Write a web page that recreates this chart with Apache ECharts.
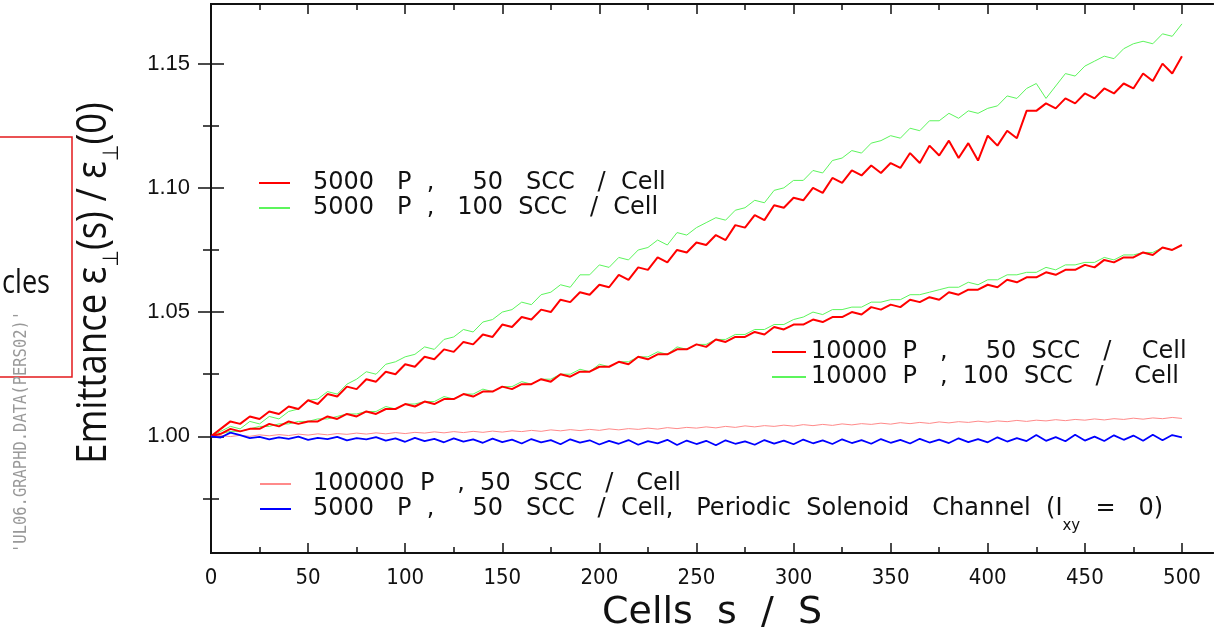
<!DOCTYPE html>
<html>
<head>
<meta charset="utf-8">
<script src="https://cdn.jsdelivr.net/npm/echarts@6/dist/echarts.min.js"></script>
<style>
  html, body { margin: 0; padding: 0; background: #fff; }
  #chart { width: 1224px; height: 637px; }
</style>
</head>
<body>
<div id="chart"></div>
<script>
const chart = echarts.init(document.getElementById('chart'))

// cell index s / S, sampled every 5 cells
const cells = [
  0, 5, 10, 15, 20, 25, 30, 35, 40, 45, 50, 55, 60, 65, 70, 75, 80, 85, 90, 95,
  100, 105, 110, 115, 120, 125, 130, 135, 140, 145, 150, 155, 160, 165, 170, 175, 180, 185, 190, 195,
  200, 205, 210, 215, 220, 225, 230, 235, 240, 245, 250, 255, 260, 265, 270, 275, 280, 285, 290, 295,
  300, 305, 310, 315, 320, 325, 330, 335, 340, 345, 350, 355, 360, 365, 370, 375, 380, 385, 390, 395,
  400, 405, 410, 415, 420, 425, 430, 435, 440, 445, 450, 455, 460, 465, 470, 475, 480, 485, 490, 495,
  500,
]

// 5000 P, 50 SCC / Cell
const p5000scc50 = [
  1.000, 1.003, 1.006, 1.005, 1.008, 1.007, 1.010, 1.009, 1.012, 1.011,
  1.0145, 1.013, 1.017, 1.016, 1.020, 1.019, 1.023, 1.022, 1.026, 1.025,
  1.029, 1.028, 1.032, 1.031, 1.035, 1.034, 1.038, 1.037, 1.041, 1.040,
  1.045, 1.044, 1.048, 1.047, 1.051, 1.050, 1.055, 1.054, 1.058, 1.057,
  1.061, 1.060, 1.065, 1.063, 1.068, 1.067, 1.072, 1.070, 1.075, 1.074,
  1.078, 1.077, 1.081, 1.079, 1.085, 1.084, 1.089, 1.087, 1.093, 1.092,
  1.096, 1.095, 1.100, 1.098, 1.104, 1.102, 1.107, 1.105, 1.109, 1.106,
  1.110, 1.108, 1.114, 1.110, 1.117, 1.113, 1.119, 1.112, 1.118, 1.111,
  1.121, 1.117, 1.123, 1.120, 1.131, 1.131, 1.134, 1.132, 1.136, 1.134,
  1.138, 1.136, 1.140, 1.138, 1.142, 1.140, 1.146, 1.143, 1.150, 1.146,
  1.153,
]

// 5000 P, 100 SCC / Cell
const p5000scc100 = [
  1.000, 1.002, 1.004, 1.003, 1.006, 1.005, 1.008, 1.007, 1.010, 1.011,
  1.0145, 1.015, 1.018, 1.017, 1.021, 1.023, 1.026, 1.025, 1.029, 1.030,
  1.032, 1.033, 1.036, 1.035, 1.039, 1.040, 1.043, 1.042, 1.046, 1.047,
  1.050, 1.051, 1.054, 1.053, 1.057, 1.058, 1.061, 1.060, 1.065, 1.065,
  1.069, 1.068, 1.072, 1.071, 1.075, 1.076, 1.079, 1.077, 1.082, 1.081,
  1.084, 1.086, 1.088, 1.087, 1.091, 1.092, 1.095, 1.094, 1.099, 1.100,
  1.103, 1.103, 1.107, 1.106, 1.111, 1.112, 1.115, 1.114, 1.118, 1.119,
  1.121, 1.120, 1.124, 1.123, 1.127, 1.127, 1.130, 1.128, 1.131, 1.130,
  1.132, 1.133, 1.137, 1.136, 1.140, 1.142, 1.136, 1.141, 1.146, 1.145,
  1.149, 1.151, 1.153, 1.152, 1.156, 1.158, 1.159, 1.158, 1.162, 1.161,
  1.166,
]

// 10000 P, 50 SCC / Cell
const p10000scc50 = [
  1.000, 1.001, 1.003, 1.002, 1.003, 1.003, 1.005, 1.004, 1.006, 1.005,
  1.006, 1.006, 1.008, 1.007, 1.009, 1.008, 1.010, 1.009, 1.011, 1.011,
  1.013, 1.012, 1.014, 1.013, 1.015, 1.015, 1.017, 1.016, 1.018, 1.018,
  1.020, 1.019, 1.021, 1.021, 1.023, 1.022, 1.025, 1.024, 1.026, 1.026,
  1.028, 1.028, 1.030, 1.029, 1.032, 1.031, 1.033, 1.033, 1.035, 1.035,
  1.037, 1.036, 1.039, 1.038, 1.040, 1.040, 1.042, 1.041, 1.044, 1.043,
  1.045, 1.045, 1.047, 1.046, 1.048, 1.048, 1.050, 1.049, 1.052, 1.051,
  1.053, 1.052, 1.055, 1.054, 1.056, 1.055, 1.058, 1.057, 1.059, 1.059,
  1.061, 1.060, 1.063, 1.062, 1.064, 1.064, 1.066, 1.065, 1.067, 1.067,
  1.069, 1.068, 1.071, 1.070, 1.072, 1.072, 1.074, 1.073, 1.076, 1.075,
  1.077,
]

// 10000 P, 100 SCC / Cell
const p10000scc100 = [
  1.000, 1.001, 1.002, 1.002, 1.003, 1.004, 1.004, 1.005, 1.005, 1.006,
  1.006, 1.007, 1.007, 1.008, 1.009, 1.009, 1.010, 1.010, 1.012, 1.011,
  1.013, 1.013, 1.014, 1.014, 1.016, 1.015, 1.017, 1.017, 1.019, 1.018,
  1.020, 1.020, 1.022, 1.021, 1.023, 1.023, 1.025, 1.025, 1.027, 1.026,
  1.029, 1.028, 1.030, 1.030, 1.032, 1.032, 1.034, 1.033, 1.036, 1.035,
  1.037, 1.037, 1.039, 1.039, 1.041, 1.041, 1.043, 1.043, 1.045, 1.045,
  1.047, 1.048, 1.050, 1.049, 1.051, 1.051, 1.052, 1.052, 1.054, 1.054,
  1.055, 1.055, 1.057, 1.057, 1.058, 1.059, 1.060, 1.060, 1.062, 1.061,
  1.063, 1.063, 1.065, 1.065, 1.066, 1.066, 1.068, 1.067, 1.069, 1.069,
  1.070, 1.070, 1.072, 1.071, 1.073, 1.073, 1.074, 1.074, 1.076, 1.075,
  1.077,
]

// 100000 P, 50 SCC / Cell
const p100000scc50 = [
  1.0000, 1.0003, 0.9999, 1.0004, 1.0000, 1.0006, 1.0002, 1.0007, 1.0003, 1.0009,
  1.0005, 1.0010, 1.0006, 1.0011, 1.0008, 1.0013, 1.0009, 1.0014, 1.0010, 1.0015,
  1.0011, 1.0016, 1.0013, 1.0018, 1.0014, 1.0019, 1.0015, 1.0020, 1.0016, 1.0021,
  1.0017, 1.0022, 1.0019, 1.0024, 1.0020, 1.0026, 1.0022, 1.0027, 1.0023, 1.0028,
  1.0024, 1.0030, 1.0026, 1.0031, 1.0028, 1.0033, 1.0029, 1.0035, 1.0031, 1.0036,
  1.0033, 1.0038, 1.0034, 1.0040, 1.0036, 1.0042, 1.0038, 1.0043, 1.0040, 1.0045,
  1.0041, 1.0047, 1.0043, 1.0048, 1.0044, 1.0050, 1.0046, 1.0051, 1.0048, 1.0053,
  1.0049, 1.0055, 1.0051, 1.0056, 1.0052, 1.0058, 1.0054, 1.0059, 1.0056, 1.0061,
  1.0057, 1.0062, 1.0059, 1.0064, 1.0060, 1.0065, 1.0062, 1.0067, 1.0063, 1.0068,
  1.0065, 1.0070, 1.0066, 1.0071, 1.0068, 1.0073, 1.0069, 1.0074, 1.0071, 1.0076,
  1.0072,
]

// 5000 P, 50 SCC / Cell, periodic solenoid channel (Ixy = 0)
const p5000solenoid = [
  1.0000, 0.9995, 1.0015, 1.0005, 0.9993, 0.9998, 0.9988, 0.9996, 0.9990, 0.9999,
  0.9986, 0.9994, 0.9989, 0.9998, 0.9984, 0.9993, 0.9988, 0.9997, 0.9983, 0.9992,
  0.9978, 0.9994, 0.9981, 0.9990, 0.9976, 0.9992, 0.9979, 0.9988, 0.9974, 0.9991,
  0.9977, 0.9987, 0.9971, 0.9989, 0.9976, 0.9985, 0.9968, 0.9988, 0.9975, 0.9984,
  0.9967, 0.9982, 0.9970, 0.9985, 0.9966, 0.9981, 0.9972, 0.9986, 0.9965, 0.9983,
  0.9969, 0.9982, 0.9964, 0.9984, 0.9970, 0.9980, 0.9966, 0.9985, 0.9971, 0.9983,
  0.9968, 0.9987, 0.9972, 0.9984, 0.9969, 0.9988, 0.9973, 0.9985, 0.9970, 0.9989,
  0.9974, 0.9986, 0.9971, 0.9990, 0.9975, 0.9987, 0.9973, 0.9992, 0.9977, 0.9989,
  0.9976, 0.9996, 0.9979, 0.9993, 0.9981, 1.0005, 0.9982, 0.9997, 0.9980, 1.0006,
  0.9983, 0.9999, 0.9981, 1.0004, 0.9986, 1.0003, 0.9982, 1.0006, 0.9984, 1.0005,
  0.9996,
]

// axis ticks
const xMajorTicks = [0, 50, 100, 150, 200, 250, 300, 350, 400, 450, 500]
const xMinorTicks = [25, 75, 125, 175, 225, 275, 325, 375, 425, 475]
const yMajorTicks = [1.00, 1.05, 1.10, 1.15]
const yMinorTicks = [0.975, 1.025, 1.075, 1.125]

const seriesNames = [
  '5000 P, 50 SCC / Cell',
  '5000 P, 100 SCC / Cell',
  '10000 P, 50 SCC / Cell',
  '10000 P, 100 SCC / Cell',
  '100000 P, 50 SCC / Cell',
  '5000 P, 50 SCC / Cell, Periodic Solenoid Channel (Ixy = 0)',
]
// legend labels as printed (wide spacing)
const legendLabels = [
  '5000   P  ,     50   SCC   /  Cell',
  '5000   P  ,   100  SCC   /  Cell',
  '10000  P   ,     50  SCC   /    Cell',
  '10000  P   ,  100  SCC   /    Cell',
  '100000  P   ,  50   SCC   /   Cell',
  '{t|5000   P  ,     50   SCC   /  Cell,   Periodic  Solenoid   Channel  (I}{s|xy}{t|  =   0)}',
]

const pairs = (vals) => cells.map((c, i) => [c, vals[i]])
const legendFormatter = (name) => legendLabels[seriesNames.indexOf(name)]

const ink = '#111'
const legendText = {
  fontFamily: 'DejaVu Sans',
  fontSize: 24,
  lineHeight: 25,
  color: ink,
}

function lineSeries(nameIdx, vals, color, width) {
  return {
    name: seriesNames[nameIdx],
    type: 'line',
    data: pairs(vals),
    color: color,
    showSymbol: false,
    symbol: 'none',
    lineStyle: { color: color, width: width },
    emphasis: { disabled: true },
  }
}

function xAxisOf(position, ticks, len, withLabels) {
  return {
    type: 'value',
    position: position,
    min: 0,
    max: 516,
    axisLine: { show: true, lineStyle: { color: ink, width: 2 } },
    axisTick: { inside: true, length: len, customValues: ticks, lineStyle: { color: ink, width: 1.5 } },
    axisLabel: withLabels
      ? {
          customValues: ticks,
          margin: 14,
          fontFamily: "'DejaVu Sans Condensed', 'Liberation Sans Narrow', 'DejaVu Sans'",
          fontSize: 22,
          color: ink,
        }
      : { show: false },
    splitLine: { show: false },
  }
}

function yAxisOf(position, ticks, len, withLabels) {
  return {
    type: 'value',
    position: position,
    min: 0.953,
    max: 1.174,
    axisLine: { show: true, lineStyle: { color: ink, width: 2 } },
    axisTick: { inside: true, length: len, customValues: ticks, lineStyle: { color: ink, width: 1.5 } },
    axisLabel: withLabels
      ? {
          customValues: ticks,
          margin: 21,
          formatter: (v) => v.toFixed(2),
          fontFamily: 'Liberation Sans',
          fontSize: 22,
          color: ink,
        }
      : { show: false },
    splitLine: { show: false },
  }
}

const bottomAxis = xAxisOf('bottom', xMajorTicks, 10, true)
bottomAxis.name = 'Cells  s  /  S'
bottomAxis.nameLocation = 'middle'
bottomAxis.nameGap = 40
bottomAxis.nameTextStyle = { fontFamily: 'DejaVu Sans', fontSize: 38, color: ink }

const option = {
  backgroundColor: '#fff',
  animation: false,
  grid: { left: 211, right: 11, top: 4, bottom: 79 },
  xAxis: [
    bottomAxis,
    xAxisOf('bottom', xMinorTicks, 6, false),
    xAxisOf('top', xMajorTicks, 10, false),
    xAxisOf('top', xMinorTicks, 6, false),
  ],
  yAxis: [
    yAxisOf('left', yMajorTicks, 13, true),
    yAxisOf('left', yMinorTicks, 8, false),
    yAxisOf('right', yMajorTicks, 13, false),
    yAxisOf('right', yMinorTicks, 8, false),
  ],
  legend: [
    {
      data: [seriesNames[0], seriesNames[1]],
      left: 259, top: 170.5, padding: 0,
      orient: 'vertical', icon: 'rect', itemWidth: 31, itemHeight: 2, itemGap: 0,
      selectedMode: false, formatter: legendFormatter,
      textStyle: Object.assign({ padding: [0, 0, 0, 18] }, legendText),
    },
    {
      data: [seriesNames[2], seriesNames[3]],
      left: 772, top: 339.5, padding: 0,
      orient: 'vertical', icon: 'rect', itemWidth: 34, itemHeight: 2, itemGap: 0,
      selectedMode: false, formatter: legendFormatter,
      textStyle: legendText,
    },
    {
      data: [seriesNames[4], seriesNames[5]],
      left: 260, top: 471.5, padding: 0,
      orient: 'vertical', icon: 'rect', itemWidth: 31, itemHeight: 2, itemGap: 0,
      selectedMode: false, formatter: legendFormatter,
      textStyle: Object.assign({
        padding: [0, 0, 0, 17],
        rich: {
          t: { fontFamily: 'DejaVu Sans', fontSize: 24, lineHeight: 25, color: ink, verticalAlign: 'top' },
          s: { fontFamily: 'DejaVu Sans', fontSize: 15, lineHeight: 3, padding: [22, 0, 0, 0], color: ink, verticalAlign: 'top' },
        },
      }, legendText),
    },
  ],
  series: [
    lineSeries(1, p5000scc100, '#5cf55c', 1),
    lineSeries(3, p10000scc100, '#5cf55c', 1),
    lineSeries(4, p100000scc50, '#ff8a8a', 1),
    lineSeries(0, p5000scc50, '#ff0000', 2),
    lineSeries(2, p10000scc50, '#ff0000', 2),
    lineSeries(5, p5000solenoid, '#0000ff', 1.8),
  ],
  graphic: [
    {
      type: 'rect', silent: true,
      shape: { x: -2, y: 137, width: 74, height: 240 },
      style: { fill: 'none', stroke: '#e31a1c', lineWidth: 1.5 },
    },
    {
      type: 'text', silent: true, x: 50, y: 284, scaleX: 0.82,
      style: { text: 'cles', font: '33px "Open Sans"', fill: ink, align: 'right', verticalAlign: 'middle' },
    },
    {
      type: 'text', silent: true, x: 22, y: 553, rotation: Math.PI / 2, scaleX: 0.91,
      style: { text: "'UL06.GRAPHD.DATA(PERS02)'", font: '17px "DejaVu Sans Mono"', fill: '#999', align: 'left', verticalAlign: 'middle' },
    },
    {
      // y axis title
      type: 'text', silent: true, x: 97, y: 283, rotation: Math.PI / 2, scaleX: 0.87,
      style: {
        text: '{a|Emittance ε}{b|⊥}{a|(s) / ε}{b|⊥}{a|(0)}',
        align: 'center',
        verticalAlign: 'middle',
        rich: {
          a: { fontSize: 42, fontFamily: 'Open Sans', lineHeight: 48, fill: ink, verticalAlign: 'top' },
          b: { fontSize: 22, fontFamily: 'DejaVu Sans', lineHeight: 10, padding: [28, 0, 0, 0], fill: ink, verticalAlign: 'top' },
        },
      },
    },
  ],
}

chart.setOption(option)
</script>
</body>
</html>
